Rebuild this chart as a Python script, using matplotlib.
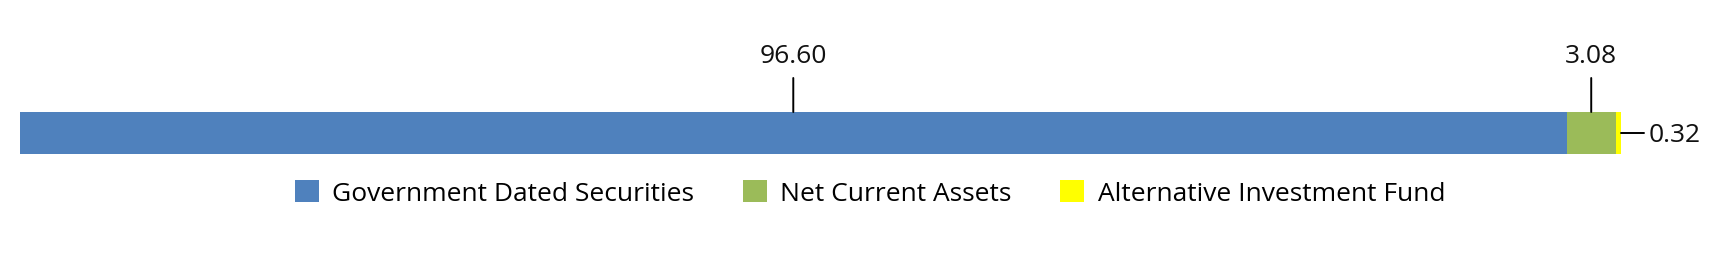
import matplotlib.pyplot as plt

# composition of the fund (%)
categories = ['Government Dated Securities', 'Net Current Assets', 'Alternative Investment Fund']
values = [96.60, 3.08, 0.32]
labels = ['96.60', '3.08', '0.32']
colors = ['#4F81BD', '#9BBB59', '#FFFF00']

plt.rcParams['font.family'] = ['Open Sans', 'DejaVu Sans']
fs = 19

fig = plt.figure(figsize=(17.22, 2.74), dpi=100)
ax = fig.add_axes([20 / 1722, 120 / 274, 1601 / 1722, 42 / 274])

left = 0
bars = []
for cat, val, col in zip(categories, values, colors):
    b = ax.barh(0, val, left=left, height=1.0, color=col, label=cat)
    bars.append((left, val))
    left += val

ax.set_xlim(0, sum(values))
ax.set_ylim(-0.5, 0.5)
ax.axis('off')

# labels above bar for the first two segments
for (l, v), txt in zip(bars[:2], labels[:2]):
    cx = l + v / 2
    ax.annotate('', xy=(cx, 0.5), xytext=(0, 34), textcoords='offset pixels',
                arrowprops=dict(arrowstyle='-', lw=1.4, color='black',
                                shrinkA=0, shrinkB=0), annotation_clip=False)
    ax.annotate(txt, xy=(cx, 0.5), xytext=(0, 49), textcoords='offset pixels',
                ha='center', va='baseline', fontsize=fs, color='#111111',
                annotation_clip=False)

# last (tiny) segment labelled to the right
l, v = bars[2]
ax.annotate('', xy=(l + v, 0), xytext=(23, 0), textcoords='offset pixels',
            arrowprops=dict(arrowstyle='-', lw=1.4, color='black',
                            shrinkA=0, shrinkB=0), annotation_clip=False)
ax.annotate(labels[2], xy=(l + v, 0), xytext=(28, 0), textcoords='offset pixels',
            ha='left', va='center_baseline', fontsize=fs, color='#111111',
            annotation_clip=False)

fig.legend(loc='center', bbox_to_anchor=(870 / 1722, 0.294), ncol=3,
           frameon=False, fontsize=fs, handlelength=0.91, handleheight=0.91,
           handletextpad=0.5, columnspacing=1.85, borderpad=0)

fig.savefig('out.png', dpi=100)
